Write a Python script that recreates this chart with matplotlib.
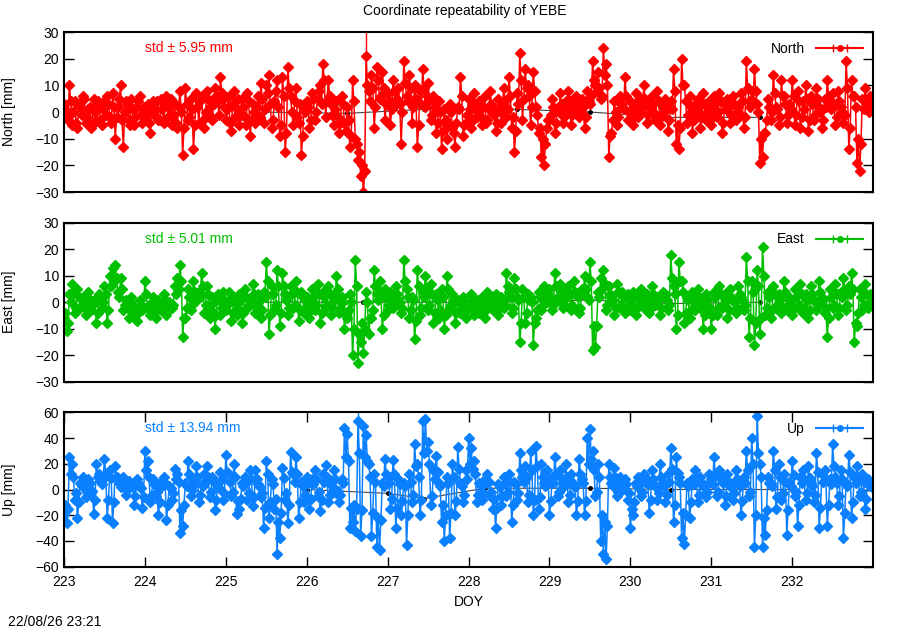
import numpy as np
import matplotlib
matplotlib.use("Agg")
import matplotlib.pyplot as plt

# epochs: 60 samples per day, DOY 223 .. 233
doy = 223 + np.arange(600) / 60.0

# North residuals [mm]; *_a are the even epochs, *_b the odd ones, one row per day
north_a = [
    3, -2, 10, -5, 4, -6, 2, 6, -4, 1, -6, 5, -3, 3, -5, 4, 6, -2, 7, -10, 2, 10, -13, 4, -3, 5, -5, 2, 6, -4,
    -2, 3, -8, 4, 1, -3, 5, -4, 6, 2, -5, 3, -6, 8, -16, 9, -3, 5, -14, 7, -4, 6, -6, 8, 2, -3, 9, 4, 13, 5,
    -3, 6, -7, 8, 1, -5, 5, -2, 7, -9, 3, -4, 6, 11, -4, 10, 14, -6, 4, 12, -9, 13, -15, 17, 6, -5, 9, -4, -16, 2,
    4, -6, 7, -3, 5, 10, 18, -2, 12, 3, -5, 4, -8, 6, -4, 2, -13, 12, -10, -18, -24, -30, 21, 8, 14, -6, 17, 5, 15, -3,
    7, -5, 12, 3, 9, -12, 19, 6, 14, -4, 10, -13, 8, 16, 2, 11, -3, 6, -8, 4, -14, 1, -10, 3, -6, -13, 2, 13, -9, -4,
    5, -6, 7, -2, 4, -5, 6, -3, 8, 1, -7, 5, -4, 9, -2, 13, -6, -15, 7, 22, -3, 16, 10, -5, 15, 2, -8, -17, -20, -6,
    -3, 5, -8, 2, 7, -4, 4, 8, -5, 3, 6, -2, 5, -6, 8, 3, 19, 10, 15, 5, 24, 18, -17, -8, 4, -5, 6, 2, 13, -3,
    4, -5, 7, -2, 5, 10, -4, 3, 6, -3, 8, -5, 2, 5, -7, 4, 16, -12, -14, 20, 10, -4, 6, -8, 3, 5, -6, 7, -3, 4,
    -5, 6, -2, 7, -8, 3, 5, -4, 6, -3, 2, 7, -6, 19, 4, 8, 16, 3, -19, -17, -8, 5, -3, 14, 2, -5, 12, 6, -4, 3,
    12, -5, 8, -6, 4, 10, -7, 6, -3, 9, 2, -6, 5, 12, 3, 7, -5, 8, 2, -4, 19, -14, 12, 6, -19, -22, 5, 9, 3, 6,
]
north_b = [
    1, -3, 4, 0, -4, 3, -1, 5, -2, 2, -5, 0, 4, -3, 1, -1, 3, -4, 2, -2, 5, -3, 0, 3, -5, 1, -2, 4, -1, 2,
    0, -4, 2, -1, 4, -3, 1, 3, -2, 5, -1, -4, 2, 0, -6, 3, -2, 1, -5, 2, 4, -3, 0, 5, -2, 3, 6, -1, 7, 2,
    1, -4, 3, -2, 5, -1, 2, -5, 4, -3, 0, 2, -2, 5, 1, 7, 3, -3, 8, 2, -5, 6, -8, 9, 0, 4, -2, 3, -9, 0,
    2, -3, 5, 0, 8, 3, 12, 4, 6, -1, 1, -2, -4, 3, -7, -3, -9, 4, -12, -15, -20, -22, 10, 4, 9, 2, 12, 6, 9, 3,
    4, 1, 8, 5, 3, 0, 11, 4, 9, 2, 5, -5, 3, 9, 6, 4, -1, 2, -4, 0, -7, -3, -5, 0, -8, -4, 1, 6, -5, -1,
    1, -3, 3, 0, -2, 2, -4, 1, 3, -1, -4, 2, 0, 4, 1, 6, -2, -7, 3, 12, 5, 9, 6, 2, 8, -1, -6, -10, -12, -3,
    -1, 2, -4, 0, 3, -2, 1, 4, -1, 2, 3, 0, 2, -2, 4, 6, 12, 8, 9, 6, 14, 10, -9, -3, 0, -2, 3, 1, 6, 0,
    1, -2, 3, 0, 2, 5, -1, 1, 3, -1, 4, -2, 0, 2, -3, 1, 8, -5, -6, 10, 4, -1, 2, -3, 0, 2, -2, 3, 0, 1,
    -2, 3, 0, 4, -4, 1, 2, -1, 3, 0, -1, 4, -2, 9, 2, 4, 8, 0, -10, -8, -3, 2, 0, 7, 1, -2, 6, 3, -1, 1,
    6, -1, 4, -2, 1, 5, -3, 3, -1, 5, 0, -3, 2, 6, 1, 3, -2, 4, 0, -1, 9, -6, 6, 2, -10, -12, 1, 4, 0, 2,
]

# East residuals [mm]
east_a = [
    -6, -11, 3, 7, -4, 5, -2, 2, -5, 4, -3, 1, -8, 3, -2, 6, -8, 10, 13, 14, 4, 9, -3, 1, -6, 2, -4, -7, 1, -3,
    8, -2, -5, 2, -6, 1, -3, 3, -5, 0, -2, 6, 9, 14, -13, -6, 5, -3, 8, 2, 4, 11, -4, 6, -6, 2, -10, 3, -5, 4,
    -3, 4, -7, 2, -5, 3, -8, 5, -2, 1, 7, -4, 3, -6, 4, 15, -12, 6, -3, 12, -9, 11, 3, -5, 6, -2, 8, -7, 4, -4,
    2, -6, 5, -3, 7, -8, 4, -2, 6, -5, 3, 10, -4, 2, -10, -6, 3, -20, 16, -23, -15, -19, 4, -12, -6, 12, 3, 8, -10, 5,
    -3, 4, -2, 6, 1, -4, 16, 5, -6, 2, -14, 12, -5, 4, 10, -3, 7, -8, 3, -6, 5, -10, 10, -2, 3, -8, 1, -4, 2, -6,
    -2, 3, -5, 1, -4, 2, -6, 4, -1, -3, 3, -5, 2, -2, 11, 4, -4, 9, 2, -15, 5, -8, 3, 2, -16, -6, 4, -3, 6, 0,
    5, -3, 11, 2, 7, -2, 4, 6, -3, 8, 3, -4, 5, 10, 2, 15, -18, -17, 4, 9, 12, -3, 6, 2, -5, 7, -2, 4, -4, 3,
    -3, 4, -5, 2, 5, -2, 3, -4, 6, -1, 2, -5, 4, 3, -3, 18, 6, -10, 15, 8, -8, 2, -6, 4, -3, 5, -2, -10, 3, -4,
    -10, 4, -5, 6, -2, 3, -6, 5, 1, -4, 6, 2, -3, 17, -13, 8, -16, 12, -12, 21, -5, 4, -6, 6, -2, 3, -4, 8, -3, 2,
    -5, 5, -2, 7, -4, 3, -6, 6, 1, -3, 8, 2, -4, -13, 5, -2, 7, -5, 4, 9, -3, 6, 11, -15, -9, 5, -3, 7, -2, 3,
]
east_b = [
    -4, -8, 0, 4, -2, 2, -1, 0, -3, 1, -1, 0, -4, 1, 0, 3, -3, 6, 8, 9, 2, 5, -1, -1, -3, -1, -2, -4, -1, -2,
    3, -1, -3, 0, -3, -1, -2, 1, -3, -1, -1, 3, 5, 8, -6, -2, 2, -1, 4, 1, 2, 6, -1, 3, -3, 0, -5, 1, -2, 1,
    -1, 1, -4, 0, -2, 1, -4, 2, -1, 0, 3, -2, 1, -3, 2, 8, -5, 3, -1, 6, -4, 6, 1, -2, 3, -1, 4, -3, 2, -2,
    0, -3, 2, -1, 3, -4, 2, -1, 3, -2, 1, 5, -2, 0, -5, -3, 0, -10, 6, -12, -8, -10, 0, -6, -3, 6, 1, 4, -5, 2,
    -1, 2, -1, 3, 0, -2, 8, 2, -3, 1, -7, 6, -2, 2, 5, -1, 3, -4, 1, -3, 2, -5, 5, -1, 1, -4, 0, -2, 1, -3,
    -1, 1, -3, 0, -2, 1, -3, 2, 0, -2, 1, -2, 1, -1, 6, 2, -2, 5, 1, -8, 2, -4, 1, 0, -8, -3, 2, -1, 3, 1,
    2, -1, 6, 1, 4, -1, 2, 3, -1, 4, 2, -2, 3, 5, 1, 8, -9, -9, 2, 5, 7, -1, 3, 1, -2, 4, -1, 2, -2, 1,
    -1, 2, -2, 1, 2, -1, 1, -2, 3, 0, 1, -2, 2, 1, -1, 9, 3, -5, 8, 4, -4, 1, -3, 2, -1, 2, -1, -5, 1, -2,
    -5, 2, -2, 3, -1, 1, -3, 2, 0, -2, 3, 1, -1, 8, -6, 4, -8, 6, -6, 10, -2, 2, -3, 3, -1, 1, -2, 4, -1, 1,
    -2, 2, -1, 3, -2, 1, -3, 3, 0, -1, 4, 1, -2, -6, 2, -1, 3, -2, 2, 4, -1, 3, 5, -8, -4, 2, -1, 3, -1, 1,
]

# Up residuals [mm]
up_a = [
    -20, -26, 25, 20, -8, -22, 5, 10, -6, 8, -3, -19, 20, 12, 4, 24, -22, 15, -26, 18, 9, 2, 10, -4, 7, 3, -12, 8, 2, -14,
    30, 22, -10, 8, -5, -20, 6, 10, -24, 3, -8, 16, 12, -34, -28, 5, 22, -5, 8, 18, -10, 4, 12, 18, -6, 10, -16, 2, 14, -8,
    27, 12, -5, 20, -19, -15, 5, 10, -8, 15, -13, 15, 4, -6, -30, 22, -22, 8, -15, -50, -38, 17, -8, -26, 29, 12, 25, -22, 6, -10,
    10, -15, 8, 15, -5, -17, 12, 19, -10, 6, 15, -3, -10, 8, 48, 43, -30, -25, -32, 53, -36, 49, 42, 20, -36, 12, -45, -47, 5, 24,
    10, -15, 23, -30, 8, -20, 5, -43, 12, -10, 35, 20, -20, 53, 55, 37, -12, 15, 26, 5, -25, -40, 10, -38, 20, -20, 33, 5, -10, 15,
    40, 32, 22, -10, 5, -8, 8, 12, -5, -15, -30, 4, -12, 10, -5, 12, -25, 6, -8, 28, 10, 18, -10, 30, -20, 34, -15, 20, 5, 15,
    -20, 10, 25, -5, 15, 5, 20, -10, 12, 3, -20, 24, 8, -20, 40, 47, 30, -5, 20, -40, -50, -54, 20, 5, 17, -5, 10, 0, 8, -8,
    -30, -20, 5, 10, -5, 12, 8, -18, 15, 3, -8, 20, 6, -10, 12, 32, -25, 25, 10, -38, -42, 5, -22, 8, 15, -10, 10, 3, -6, 12,
    8, 25, -5, 15, 10, -12, 12, 3, -8, 15, 5, -20, 10, 30, -5, 40, -45, 57, 20, -45, -35, 10, 5, 30, -15, 20, -8, 12, -35, 6,
    22, -5, -28, 10, 15, -8, 18, 5, -10, 28, -30, 12, 15, -28, 8, 35, 10, -12, 15, -38, 5, 27, -22, 10, 18, -5, 12, -15, 8, 3,
]
up_b = [
    -12, -15, 12, 10, -3, -10, 3, 5, -2, 5, -1, -8, 10, 7, 8, 12, -8, 9, -10, 10, 5, 3, 6, 0, 4, 2, -5, 5, 1, -6,
    15, 10, -4, 4, -2, -10, 3, 5, -12, 1, -3, 8, 6, -16, -12, 3, 12, 0, 5, 10, -4, 3, 7, 10, -2, 6, -8, 1, 8, -3,
    14, 6, -2, 10, -9, -7, 3, 5, -3, 8, -6, 8, 2, -3, -14, 12, -10, 4, -7, -25, -18, 9, -3, -12, 14, 6, 12, -10, 3, -4,
    5, -7, 4, 8, -2, -8, 6, 10, -4, 3, 8, -1, -4, 5, 25, 22, -14, -12, -15, 28, -16, 25, 22, 10, -18, 6, -22, -24, 3, 12,
    5, -7, 12, -14, 4, -9, 3, -20, 6, -4, 18, 10, -8, 28, 30, 20, -5, 8, 14, 3, -12, -20, 5, -18, 10, -9, 16, 3, -4, 8,
    20, 16, 12, -4, 3, -3, 5, 6, -2, -7, -14, 2, -5, 5, -2, 6, -12, 4, -3, 15, 6, 10, -4, 15, -8, 18, -6, 10, 3, 8,
    -9, 5, 12, -2, 8, 3, 10, -4, 6, 2, -9, 12, 5, -9, 20, 24, 15, -2, 10, -20, -25, -28, 10, 3, 9, -2, 5, 1, 4, -3,
    -15, -10, 3, 5, -2, 6, 4, -8, 8, 2, -3, 10, 3, -4, 6, 16, -12, 13, 5, -18, -20, 3, -10, 4, 8, -4, 5, 2, -2, 6,
    4, 12, -2, 8, 5, -5, 6, 2, -3, 8, 3, -9, 5, 15, -2, 20, -20, 28, 10, -22, -16, 5, 3, 15, -6, 10, -3, 6, -16, 3,
    11, -2, -12, 5, 8, -3, 9, 3, -4, 14, -14, 6, 8, -12, 4, 18, 5, -5, 8, -18, 3, 14, -10, 5, 9, -2, 6, -7, 4, 2,
]

# a few epochs with large formal errors (epoch index, sigma mm)
north_err_idx = [222, 224]
north_err = [6, 12]
up_err_idx = [218, 514]
up_err = [10, 8]

# black reference curve near zero
north_ref_doy = [225.35, 226.5, 227.45, 228.6, 229.5, 230.45, 231.6]
north_ref = [0, -0.5, 1, 1, 0, -2, -2]
east_ref_doy = [225.4, 226.7, 228.2, 229.5, 230.5, 231.6]
east_ref = [0, 0, 0, 0.8, -0.5, 0]
up_ref_doy = [226.0, 227.0, 227.45, 228.2, 229.5, 230.5, 232.0]
up_ref = [0, -3, -7, 1, 1, 0, 0]


def merge(a, b):
    return np.ravel(np.column_stack([a, b])).astype(float)


panels = [
    ("North", merge(north_a, north_b), "#ff0000", (-30, 30), "std \u00b1 5.95 mm",
     north_ref_doy, north_ref, north_err_idx, north_err),
    ("East", merge(east_a, east_b), "#00c000", (-30, 30), "std \u00b1 5.01 mm",
     east_ref_doy, east_ref, [], []),
    ("Up", merge(up_a, up_b), "#0a80ff", (-60, 60), "std \u00b1 13.94 mm",
     up_ref_doy, up_ref, up_err_idx, up_err),
]
rects = [
    [0.0711, 0.6952, 0.899, 0.254],
    [0.0711, 0.3941, 0.899, 0.2524],
    [0.0711, 0.1005, 0.899, 0.245],
]

plt.rcParams["font.family"] = ["Liberation Sans", "DejaVu Sans"]
plt.rcParams["font.size"] = 10

fig = plt.figure(figsize=(9, 6.3), dpi=100)

for k, (name, vals, col, ylim, stdtxt, rdoy, rval, eidx, eval_) in enumerate(panels):
    ax = fig.add_axes(rects[k])
    ax.plot(rdoy, rval, color="#444444", lw=0.8, marker="o", ms=2.5, mfc="black", mec="black", zorder=1)
    ax.plot(doy, vals, color=col, lw=1.1, marker="D", ms=5.5, mec=col, mfc=col, zorder=2)
    if eidx:
        ax.errorbar(doy[eidx], vals[eidx], yerr=eval_, fmt="none", ecolor=col, elinewidth=1.0, zorder=2)
    # legend proxy: horizontal error bar sample like gnuplot
    proxy = ax.errorbar([np.nan], [np.nan], xerr=[1], color=col, ecolor=col, fmt="-o", ms=4,
                        capsize=3, elinewidth=1.2, label=name)
    for art in proxy.lines[2]:
        art.set_alpha(0.6)
    ax.legend(loc="upper right", frameon=False, markerfirst=False, handlelength=3.4,
              handletextpad=0.8, borderaxespad=0.3, fontsize=10)

    ax.set_xlim(223, 233)
    ax.set_ylim(*ylim)
    step = 10 if ylim[1] == 30 else 20
    ax.set_yticks(np.arange(ylim[0], ylim[1] + 1, step))
    ax.tick_params(axis="y", direction="in", length=7, width=1, right=True, labelsize=10)
    ax.set_ylabel(name + " [mm]", fontsize=10)
    ax.yaxis.set_label_coords(-0.059, 0.5)
    ax.text(0.10, 0.90, stdtxt, transform=ax.transAxes, color=col, fontsize=10, va="center")
    for s in ax.spines.values():
        s.set_linewidth(1.5)
    if k < 2:
        ax.set_xticks([])
    else:
        ax.set_xticks(np.arange(223, 233))
        ax.tick_params(axis="x", direction="in", length=7, width=1, top=True, labelsize=10, pad=6)
        ax.set_xlabel("DOY", fontsize=10, labelpad=4)

fig.text(0.516, 0.982, "Coordinate repeatability of YEBE", ha="center", va="center", fontsize=10)
fig.text(0.009, 0.012, "22/08/26 23:21", ha="left", va="center", fontsize=10)

fig.savefig("out.png", dpi=100)
